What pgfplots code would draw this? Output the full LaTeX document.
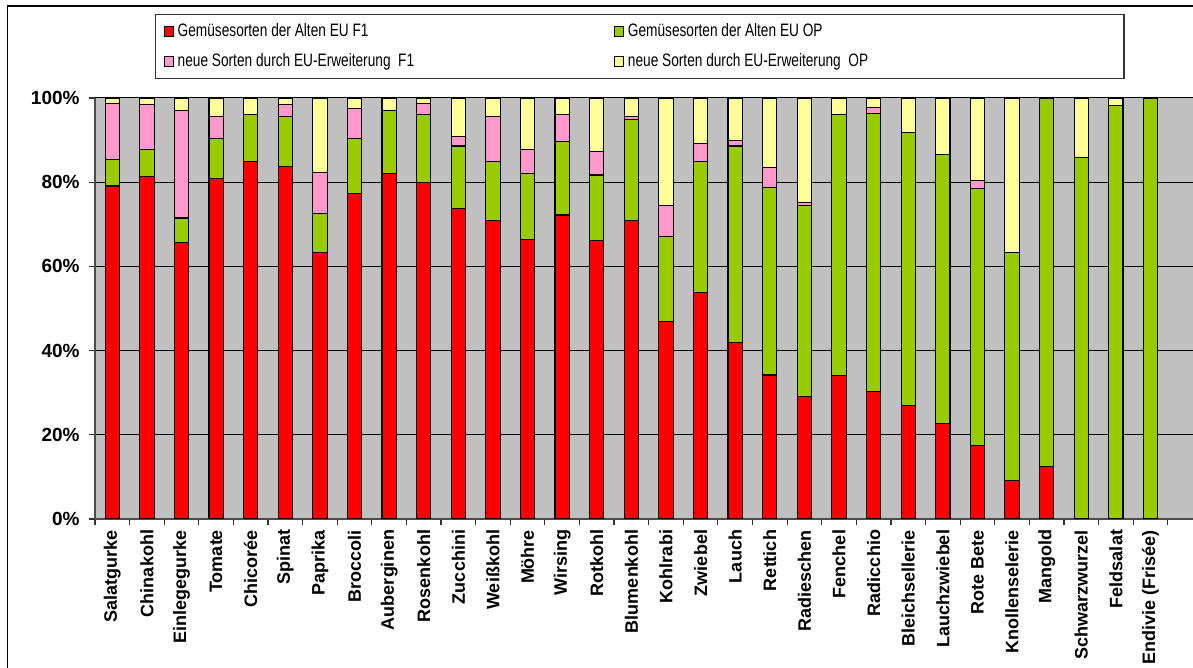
\documentclass[border=0pt]{standalone}
\usepackage{pgfplots}
\pgfplotsset{compat=1.18}
\usepackage{pgfplotstable}
\usepackage{fontspec}
\setmainfont{Liberation Sans}
\newfontfamily\legfont[FakeStretch=0.76]{Liberation Sans}
\definecolor{cRed}{HTML}{FF0000}
\definecolor{cGreen}{HTML}{99CC00}
\definecolor{cPink}{HTML}{FF99CC}
\definecolor{cYellow}{HTML}{FFFF99}
\definecolor{cBack}{HTML}{C0C0C0}
\pgfplotstableread{
x r g p y
0 79.1 6.2 13.4 1.3
1 81.3 6.5 10.6 1.6
2 65.6 5.9 25.5 3.0
3 80.9 9.5 5.2 4.4
4 85.0 11.0 0 4.0
5 83.8 11.7 2.9 1.6
6 63.4 9.2 9.8 17.6
7 77.4 13.0 7.0 2.6
8 82.1 14.9 0 3.0
9 79.9 16.1 2.7 1.3
10 73.7 14.9 2.2 9.2
11 70.8 14.2 10.6 4.4
12 66.4 15.7 5.7 12.2
13 72.2 17.5 6.3 4.0
14 66.1 15.6 5.5 12.8
15 70.8 24.0 0.8 4.4
16 47.0 20.2 7.3 25.5
17 53.7 31.3 4.1 10.9
18 42.0 46.6 1.4 10.0
19 34.2 44.6 4.7 16.5
20 29.2 45.2 0.7 24.9
21 34.0 62.0 0 4.0
22 30.2 66.2 1.4 2.2
23 27.0 64.9 0 8.1
24 22.6 63.9 0 13.5
25 17.5 60.9 2.1 19.5
26 9.2 54.0 0 36.8
27 12.4 87.6 0 0
28 0 85.8 0 14.2
29 0 98.2 0 1.8
30 0 100 0 0
}\datatable
\begin{document}
\begin{tikzpicture}
\begin{axis}[
  at={(47.5pt,74.5pt)}, anchor=south west,
  width=549pt, height=210.5pt, scale only axis,
  axis background/.style={fill=cBack},
  ybar stacked, bar width=7.15pt,
  xmin=-0.5, xmax=31.23, ymin=0, ymax=100,
  axis x line*=bottom, axis y line*=left,
  axis line style={draw=black!70, line width=0.7pt},
  tick align=outside,
  xtick={-0.5,0.5,...,31.5}, xticklabels={},
  major tick length=3.2pt,
  tick style={black!80, line width=0.6pt},
  extra x ticks={0,1,...,30},
  extra x tick style={major tick length=0pt, grid=none},
  extra x tick labels={Salatgurke,Chinakohl,Einlegegurke,Tomate,Chicorée,Spinat,Paprika,Broccoli,Auberginen,Rosenkohl,Zucchini,Weißkohl,Möhre,Wirsing,Rotkohl,Blumenkohl,Kohlrabi,Zwiebel,Lauch,Rettich,Radieschen,Fenchel,Radicchio,Bleichsellerie,Lauchzwiebel,Rote Bete,Knollenselerie,Mangold,Schwarzwurzel,Feldsalat,{Endivie (Frisée)}},
  xticklabel style={rotate=90, anchor=east, font=\bfseries\fontsize{9}{10}\selectfont, inner sep=2pt, xshift=-3.3pt},
  ytick={0,20,...,100},
  yticklabels={0\%,20\%,40\%,60\%,80\%,100\%},
  yticklabel style={font=\bfseries\fontsize{9.5}{11}\selectfont, xshift=-1pt},
  ymajorgrids, grid style={black, line width=0.5pt},
  every axis plot/.append style={draw=black, line width=0.55pt},
  legend columns=2,
  legend style={at={(0.0546,1.1995)}, anchor=north west, draw=black!80, line width=0.6pt,
    font=\legfont\fontsize{9}{10}\selectfont, inner xsep=4pt, inner ysep=2.5pt,
    /tikz/every even column/.append style={column sep=0pt}, row sep=3pt},
  legend cell align=left,
  legend image code/.code={\draw[#1, line width=0.5pt] (0pt,-2.4pt) rectangle (4.6pt,2.4pt);},
]
\addplot[fill=cRed] table[x=x,y=r]{\datatable};
\addplot[fill=cGreen] table[x=x,y=g]{\datatable};
\addplot[fill=cPink] table[x=x,y=p]{\datatable};
\addplot[fill=cYellow] table[x=x,y=y]{\datatable};
\addlegendentry{\makebox[216pt][l]{Gemüsesorten der Alten EU F1}}
\addlegendentry{\makebox[242pt][l]{Gemüsesorten der Alten EU OP}}
\addlegendentry{\makebox[216pt][l]{neue Sorten durch EU-Erweiterung\ \ F1}}
\addlegendentry{\makebox[242pt][l]{neue Sorten durch EU-Erweiterung\ \ OP}}
\end{axis}
\draw[black, line width=0.7pt] (3.6pt,-5pt) -- (3.6pt,331pt) -- (620pt,331pt);
\pgfresetboundingbox
\useasboundingbox (0,0) rectangle (596.5pt,334pt);
\end{tikzpicture}
\end{document}
